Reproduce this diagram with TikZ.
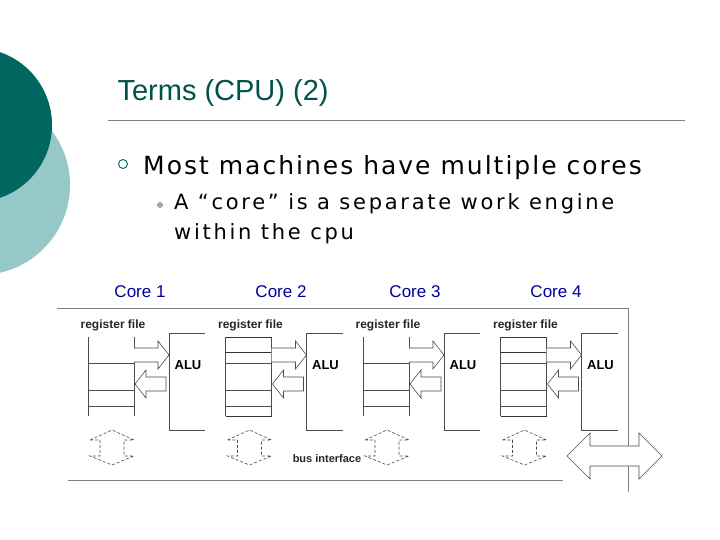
\documentclass[tikz,border=0pt]{standalone}
\usepackage{fontspec}
\setmainfont{DejaVu Sans}
\newfontfamily\arialf{Liberation Sans}
\newfontfamily\widef[LetterSpace=8]{DejaVu Sans}
\newfontfamily\widefb[LetterSpace=13]{DejaVu Sans}
\begin{document}
\begin{tikzpicture}[x=1pt,y=-1pt,
  blk/.style={draw=black!70,fill=white,line width=0.6pt},
  core/.style={font=\arialf\fontsize{17}{19}\selectfont,text=blue!60!black},
  lab/.style={font=\arialf\bfseries\fontsize{12}{14}\selectfont,text=black!85},
  alu/.style={font=\arialf\bfseries\fontsize{13}{15}\selectfont}]
\useasboundingbox[fill=white] (0,0) rectangle (720,540);
\definecolor{lteal}{RGB}{150,200,200}
\definecolor{dteal}{RGB}{0,102,96}
\begin{scope}
\clip (0,0) rectangle (720,540);
\fill[lteal] (-20,185) circle (90);
\fill[dteal] (-25,125) circle (77);
\end{scope}
\node[anchor=base west,font=\fontsize{29}{32}\selectfont,text=dteal!80!black] (title) at (114,101) {\arialf Terms (CPU) (2)};
\draw[gray,line width=0.8pt] (108,120) -- (685,120);
\node[draw=dteal,circle,inner sep=0pt,minimum size=9pt,line width=0.9pt] (b1) at (123,164) {};
\node[anchor=base west,font=\widef\fontsize{25}{28}\selectfont,inner sep=0pt] (t1) at (143,175) {Most machines have multiple cores};
\node[circle,fill=gray!70,inner sep=0pt,minimum size=6pt] (b2) at (160,205) {};
\node[anchor=north west,font=\widefb\fontsize{21}{30}\selectfont,align=left,inner sep=0pt] (t2) at (174,193) {A “core” is a separate work engine\\within the cpu};
% diagram frame
\draw[gray,line width=0.8pt] (57,308) -- (628,308) -- (628,492);
\draw[gray,line width=0.8pt] (68,480) -- (563,480);
\node[lab,font=\arialf\bfseries\fontsize{11}{13}\selectfont] (bus) at (327,459) {bus interface};
\draw[blk] (567,456) -- (590,433) -- (590,446) -- (639,446) -- (639,433) -- (662,456) -- (639,479) -- (639,466) -- (590,466) -- (590,479) -- cycle;
\draw[gray,line width=0.8pt] (628,433) -- (628,446) (628,466) -- (628,479);
\foreach \i/\cx/\n in {0/140/1,1/281/2,2/415/3,3/556/4}{
  \pgfmathsetmacro{\o}{\i*137.5}
  \begin{scope}[xshift=\o]
  \node[core] (c\n) at (\cx-\o,292) {Core \n};
  \node[lab] (r\n) at (113,325) {register file};
  \draw[black!70,line width=0.8pt] (88,337) -- (88,416) (134,337) -- (134,416);
  \draw[black!70,line width=0.8pt] (88,363) -- (134,363) (88,390) -- (134,390) (88,406) -- (134,406);
  \ifodd\i \draw[black!80,line width=1pt] (88,337)--(134,337) (88,416)--(134,416) (88,352)--(134,352);\fi
  \draw[blk] (134,348) -- (158,348) -- (158,341) -- (169,355) -- (158,369) -- (158,362) -- (134,362);
  \draw[blk] (166,377) -- (146,377) -- (146,370) -- (135,384) -- (146,398) -- (146,391) -- (166,391) -- cycle;
  \draw[black!70,line width=0.8pt] (205,333) -- (169,333) -- (169,430) -- (205,430);
  \node[alu] (a\n) at (188,365) {ALU};
  \draw[blk,densely dashed] (90,440) -- (112,430) -- (134,440) -- (124,440) -- (124,456) -- (134,456) -- (112,465) -- (90,456) -- (100,456) -- (100,440) -- cycle;
  \end{scope}
}
\end{tikzpicture}
\end{document}
